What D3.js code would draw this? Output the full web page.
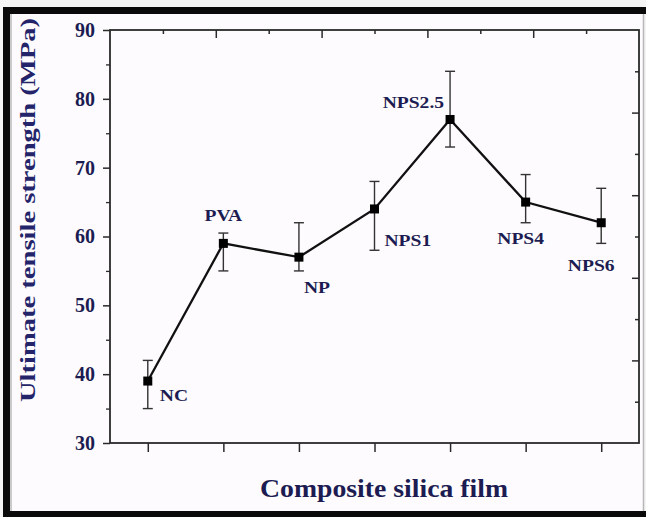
<!DOCTYPE html>
<html>
<head>
<meta charset="utf-8">
<script src="https://cdn.jsdelivr.net/npm/d3@7"></script>
<style>
  body { margin: 0; background: #f6f5f6; }
  svg { display: block; }
  text { font-family: "Liberation Serif", "Times New Roman", serif; font-weight: bold; }
</style>
</head>
<body>
<div id="chart"></div>
<script>
// Data
const categories = ["NC", "PVA", "NP", "NPS1", "NPS2.5", "NPS4", "NPS6"];
const strength  = [39, 59, 57, 64, 77, 65, 62];
const errLow    = [35, 55, 55, 58, 73, 62, 59];
const errHigh   = [42, 60.5, 62, 68, 84, 69, 67];
const yTicks    = [30, 40, 50, 60, 70, 80, 90];
const yMinorTicks = [35, 45, 55, 65, 75, 85];

// where each point label sits relative to its marker
const labelPlace = [
  {anchor: "start",  dx: 12,  dy: 20},
  {anchor: "middle", dx: 0,   dy: -22},
  {anchor: "start",  dx: 5,   dy: 36},
  {anchor: "start",  dx: 10,  dy: 37},
  {anchor: "end",    dx: -6,  dy: -11},
  {anchor: "middle", dx: -5,  dy: 42},
  {anchor: "middle", dx: -10, dy: 48}
];

const W = 646, H = 517;
const plot = {left: 110, right: 639, top: 30, bottom: 443};
const ink = "#1c1c52";

const svg = d3.select("#chart")
  .append("svg")
    .attr("width", W)
    .attr("height", H);

// frame around the figure
svg.append("rect").attr("x", 3).attr("y", 7).attr("width", 640).attr("height", 510).attr("fill", "#fdfbfd");
svg.append("rect").attr("x", 3).attr("y", 7).attr("width", 7).attr("height", 510).attr("fill", "#0a0a0a");
svg.append("rect").attr("x", 3).attr("y", 7).attr("width", 643).attr("height", 7).attr("fill", "#0a0a0a");
svg.append("rect").attr("x", 3).attr("y", 511).attr("width", 643).attr("height", 6).attr("fill", "#0a0a0a");
svg.append("line").attr("x1", 643.5).attr("x2", 643.5).attr("y1", 14).attr("y2", 511)
  .attr("stroke", "#b8b8b8").attr("stroke-width", 1.5);
svg.append("line").attr("x1", 11).attr("x2", 11).attr("y1", 14).attr("y2", 511)
  .attr("stroke", "#9a9a9a").attr("stroke-width", 1);

const x = d3.scalePoint()
  .domain(categories)
  .range([plot.left, plot.right])
  .padding(0.5);

const y = d3.scaleLinear()
  .domain([30, 90])
  .range([plot.bottom, plot.top]);

// top and right mirror axes are divided in tenths
const frac = d3.scaleLinear().domain([0, 10]);
const xTop = frac.copy().range([plot.left, plot.right]);
const yRight = frac.copy().range([plot.bottom, plot.top]);
const tenths = d3.range(1, 10);

const axisColor = "#2a2a2a";

// left axis
const left = svg.append("g")
  .attr("transform", `translate(${plot.left},0)`)
  .call(d3.axisLeft(y).tickValues(yTicks).tickSize(7).tickFormat(d3.format("d")));
left.select(".domain").remove();
left.selectAll(".tick line").attr("stroke", axisColor).attr("stroke-width", 1.5);
left.selectAll(".tick text")
  .attr("x", -15)
  .attr("fill", ink)
  .style("font-size", "20px")
  .style("font-family", "'Liberation Serif', serif");

svg.append("g")
  .attr("transform", `translate(${plot.left},0)`)
  .call(d3.axisLeft(y).tickValues(yMinorTicks).tickSize(4).tickFormat(""))
  .call(g => g.select(".domain").remove())
  .selectAll(".tick line").attr("stroke", axisColor).attr("stroke-width", 1.3);

// bottom axis: ticks only, labels are placed beside the points
const bottom = svg.append("g")
  .attr("transform", `translate(0,${plot.bottom})`)
  .call(d3.axisBottom(x).tickSize(9).tickFormat(""));
bottom.select(".domain").remove();
bottom.selectAll(".tick line").attr("stroke", axisColor).attr("stroke-width", 1.5);

// top axis, ticks pointing inward
svg.append("g")
  .attr("transform", `translate(0,${plot.top})`)
  .call(d3.axisBottom(xTop).tickValues(tenths).tickFormat(""))
  .call(g => g.select(".domain").remove())
  .selectAll(".tick line")
    .attr("y2", d => d % 2 === 0 ? 8 : 4)
    .attr("stroke", axisColor).attr("stroke-width", 1.5);

// right axis, ticks pointing inward
svg.append("g")
  .attr("transform", `translate(${plot.right},0)`)
  .call(d3.axisRight(yRight).tickValues(tenths).tickFormat(""))
  .call(g => g.select(".domain").remove())
  .selectAll(".tick line")
    .attr("x2", d => d % 2 === 0 ? -7 : -4)
    .attr("stroke", axisColor).attr("stroke-width", 1.5);

// plot box
svg.append("rect")
  .attr("x", plot.left).attr("y", plot.top)
  .attr("width", plot.right - plot.left).attr("height", plot.bottom - plot.top)
  .attr("fill", "none").attr("stroke", axisColor).attr("stroke-width", 1.8);

const rows = categories.map((c, i) => ({c: c, v: strength[i], lo: errLow[i], hi: errHigh[i], p: labelPlace[i]}));

// error bars
const err = svg.append("g").attr("stroke", "#333").attr("stroke-width", 1.4);
err.selectAll(".stem").data(rows).enter().append("line")
  .attr("x1", d => x(d.c)).attr("x2", d => x(d.c))
  .attr("y1", d => y(d.lo)).attr("y2", d => y(d.hi));
err.selectAll(".capHi").data(rows).enter().append("line")
  .attr("x1", d => x(d.c) - 5).attr("x2", d => x(d.c) + 5)
  .attr("y1", d => y(d.hi)).attr("y2", d => y(d.hi));
err.selectAll(".capLo").data(rows).enter().append("line")
  .attr("x1", d => x(d.c) - 5).attr("x2", d => x(d.c) + 5)
  .attr("y1", d => y(d.lo)).attr("y2", d => y(d.lo));

// the connecting line
svg.append("path")
  .datum(rows)
  .attr("d", d3.line().x(d => x(d.c)).y(d => y(d.v)))
  .attr("fill", "none")
  .attr("stroke", "#111")
  .attr("stroke-width", 2.3);

// square markers
svg.selectAll(".marker").data(rows).enter().append("rect")
  .attr("x", d => x(d.c) - 4.5)
  .attr("y", d => y(d.v) - 4.5)
  .attr("width", 9).attr("height", 9)
  .attr("fill", "#000");

// point labels
svg.selectAll(".ptlabel").data(rows).enter().append("text")
  .attr("x", d => x(d.c) + d.p.dx)
  .attr("y", d => y(d.v) + d.p.dy)
  .attr("text-anchor", d => d.p.anchor)
  .attr("fill", ink)
  .style("font-size", "17px")
  .text(d => d.c)
  .each(function() {
    const len = this.getComputedTextLength();
    d3.select(this).attr("textLength", len * 1.15).attr("lengthAdjust", "spacingAndGlyphs");
  });

// axis titles
svg.append("text")
  .attr("x", 384).attr("y", 497)
  .attr("text-anchor", "middle")
  .attr("fill", ink)
  .style("font-size", "26px")
  .attr("textLength", 248).attr("lengthAdjust", "spacingAndGlyphs")
  .text("Composite silica film");

svg.append("text")
  .attr("transform", "translate(35,210) rotate(-90)")
  .attr("text-anchor", "middle")
  .attr("fill", "#24246a")
  .style("font-size", "22px")
  .attr("textLength", 384).attr("lengthAdjust", "spacingAndGlyphs")
  .text("Ultimate tensile strength (MPa)");
</script>
</body>
</html>
